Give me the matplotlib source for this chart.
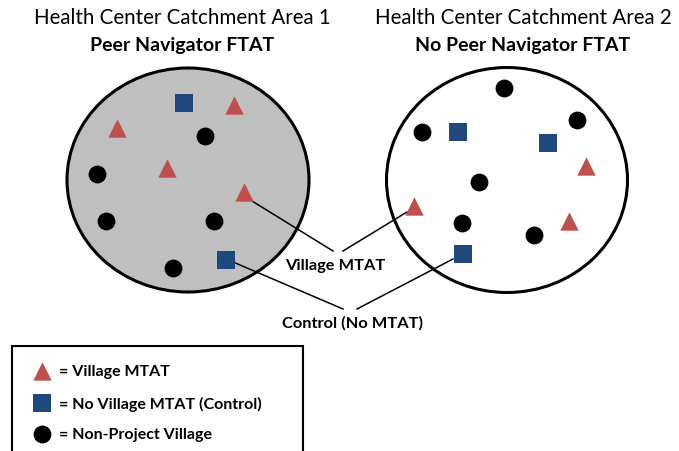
import matplotlib.pyplot as plt
from matplotlib.patches import Ellipse, Rectangle

plt.rcParams['font.family'] = ['Lato', 'DejaVu Sans']

# diagram coordinates (pixel-like space, y downwards)
area_titles = ['Health Center Catchment Area 1', 'Health Center Catchment Area 2']
area_subtitles = ['Peer Navigator FTAT', 'No Peer Navigator FTAT']
area_cx = [188, 507]
area_cy = [181, 181]
area_w = [242, 241]
area_h = [224, 225]
area_fill = ['#BFBFBF', 'white']
title_x = [182, 523]

# villages, area 1
a1_tri_x = [234, 117, 167, 244]
a1_tri_y = [106, 129, 169, 193]
a1_sq_x = [184, 226]
a1_sq_y = [104, 261]
a1_dot_x = [205, 97, 106, 214, 173]
a1_dot_y = [137, 175, 222, 222, 269]

# villages, area 2
a2_tri_x = [586, 414, 569]
a2_tri_y = [167, 207, 222]
a2_sq_x = [458, 548, 463]
a2_sq_y = [133, 144, 255]
a2_dot_x = [504, 422, 577, 479, 462, 534]
a2_dot_y = [89, 133, 121, 183, 224, 236]

# callout lines: (x0, y0, x1, y1)
callouts = [(252, 202, 333, 252), (407, 213, 343, 252),
            (233, 263, 343, 310), (453, 260, 357, 310)]
callout_labels = ['Village MTAT', 'Control (No MTAT)']
callout_label_xy = [(335, 266), (353, 323)]

legend_labels = ['= Village MTAT', '= No Village MTAT (Control)', '= Non-Project Village']
legend_y = [372, 404, 435]

red = '#C0504D'
blue = '#1F497D'

fig = plt.figure(figsize=(6.79, 4.52), dpi=100)
ax = fig.add_axes([0, 0, 1, 1])
ax.set_xlim(0, 679)
ax.set_ylim(452, 0)
ax.axis('off')

for i in range(2):
    ax.add_patch(Ellipse((area_cx[i], area_cy[i]), area_w[i], area_h[i],
                         facecolor=area_fill[i], edgecolor='black', lw=2.2, zorder=1))
    ax.text(title_x[i], 18, area_titles[i], ha='center', va='center', fontsize=14.8)
    ax.text(title_x[i], 45, area_subtitles[i], ha='center', va='center',
            fontsize=14, fontweight='bold')

for x0, y0, x1, y1 in callouts:
    ax.plot([x0, x1], [y0, y1], color='black', lw=1.1, zorder=2)

for lab, (x, y) in zip(callout_labels, callout_label_xy):
    ax.text(x, y, lab, ha='center', va='center', fontsize=11.8, fontweight='bold')

ax.scatter(a1_tri_x, a1_tri_y, marker='^', s=175, color=red, zorder=3, lw=0)
ax.scatter(a1_sq_x, a1_sq_y, marker='s', s=150, color=blue, zorder=3, lw=0)
ax.scatter(a1_dot_x, a1_dot_y, marker='o', s=165, color='black', zorder=3, lw=0)
ax.scatter(a2_tri_x, a2_tri_y, marker='^', s=175, color=red, zorder=3, lw=0)
ax.scatter(a2_sq_x, a2_sq_y, marker='s', s=150, color=blue, zorder=3, lw=0)
ax.scatter(a2_dot_x, a2_dot_y, marker='o', s=165, color='black', zorder=3, lw=0)

# legend box
ax.add_patch(Rectangle((12, 347), 291, 120, facecolor='white', edgecolor='black',
                       lw=1.5, zorder=1, clip_on=False))
ax.scatter([42], [legend_y[0]], marker='^', s=175, color=red, lw=0, zorder=3)
ax.scatter([42], [legend_y[1]], marker='s', s=150, color=blue, lw=0, zorder=3)
ax.scatter([42], [legend_y[2]], marker='o', s=165, color='black', lw=0, zorder=3)
for lab, y in zip(legend_labels, legend_y):
    ax.text(59, y, lab, ha='left', va='center', fontsize=11.5, fontweight='bold')

fig.savefig('out.png', dpi=100)
